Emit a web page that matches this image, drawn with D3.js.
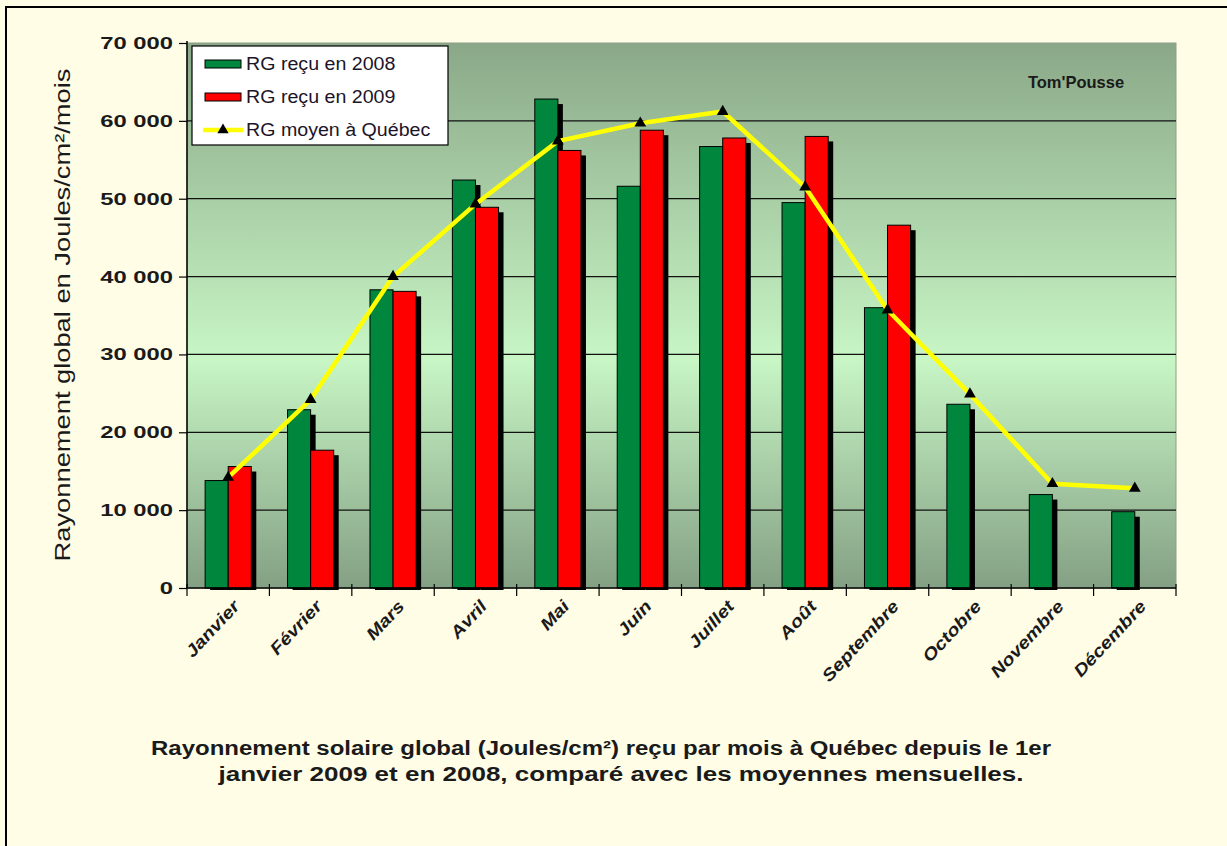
<!DOCTYPE html>
<html>
<head>
<meta charset="utf-8">
<script src="https://cdn.jsdelivr.net/npm/d3@7"></script>
<style>
  body { margin: 0; background: #fffde6; }
  svg { display: block; font-family: Arial, "Liberation Sans", sans-serif; }
</style>
</head>
<body>
<script>
//chart data
var months = ["Janvier", "Février", "Mars", "Avril", "Mai", "Juin", "Juillet", "Août", "Septembre", "Octobre", "Novembre", "Décembre"];
var rg2008 = [13800, 22900, 38300, 52400, 62800, 51600, 56700, 49500, 36000, 23600, 12000, 9800];
var rg2009 = [15600, 17700, 38100, 48900, 56200, 58800, 57800, 58000, 46600, null, null, null];
var rgMoyen = [14200, 24200, 40000, 49300, 57400, 59700, 61200, 51500, 35700, 24900, 13400, 12800];
var yTicks = [0, 10000, 20000, 30000, 40000, 50000, 60000, 70000];
var seriesNames = ["RG reçu en 2008", "RG reçu en 2009", "RG moyen à Québec"];
var captionLines = ["Rayonnement solaire global (Joules/cm²) reçu par mois à Québec depuis le 1er",
                    "janvier 2009 et en 2008, comparé avec les moyennes mensuelles."];

var width = 1227, height = 846;
var pLeft = 187, pRight = 1176, pTop = 43, pBottom = 588;

var svg = d3.select("body").append("svg")
    .attr("width", width)
    .attr("height", height);

//stretch a text horizontally by a factor
function stretch(sel, k){
    sel.each(function(){
        var w = this.getComputedTextLength();
        d3.select(this).attr("textLength", w * k).attr("lengthAdjust", "spacingAndGlyphs");
    });
}

//background and frame
svg.append("rect").attr("width", width).attr("height", height).attr("fill", "#fffde6");
svg.append("path")
    .attr("d", "M6," + height + "V7H" + width)
    .attr("fill", "none").attr("stroke", "#000").attr("stroke-width", 2);

//gradient for plot area
var defs = svg.append("defs");
var grad = defs.append("linearGradient").attr("id", "plotBg")
    .attr("x1", 0).attr("y1", 0).attr("x2", 0).attr("y2", 1);
grad.append("stop").attr("offset", "0%").attr("stop-color", "#8aa888");
grad.append("stop").attr("offset", "58%").attr("stop-color", "#c8f6c5");
grad.append("stop").attr("offset", "100%").attr("stop-color", "#84a084");

//scales
var x = d3.scaleBand().domain(months).range([pLeft, pRight]).paddingInner(0.44).paddingOuter(0.22);
var x1 = d3.scaleBand().domain([0, 1]).range([0, x.bandwidth()]);
var y = d3.scaleLinear().domain([0, 70000]).range([pBottom, pTop]);

var fmt = d3.formatLocale({decimal: ",", thousands: " ", grouping: [3], currency: ["", ""]}).format(",");

//plot area
svg.append("rect")
    .attr("x", pLeft).attr("y", pTop)
    .attr("width", pRight - pLeft).attr("height", pBottom - pTop)
    .attr("fill", "url(#plotBg)")
    .attr("stroke", "#8e9e8c");

//gridlines
svg.append("g").selectAll("line")
    .data(yTicks.filter(function(d){ return d > 0 && d < 70000; }))
    .enter().append("line")
    .attr("x1", pLeft).attr("x2", pRight)
    .attr("y1", function(d){ return y(d); })
    .attr("y2", function(d){ return y(d); })
    .attr("stroke", "#111").attr("stroke-width", 1.2);

//bars: shadow then bar for each series
var series = [
    {values: rg2008, color: "#00873d"},
    {values: rg2009, color: "#ff0000"}
];
series.forEach(function(s, i){
    var g = svg.append("g");
    var data = months.map(function(m, j){ return {m: m, v: s.values[j]}; })
        .filter(function(d){ return d.v != null; });
    g.selectAll(".shadow").data(data).enter().append("rect")
        .attr("class", "shadow")
        .attr("x", function(d){ return x(d.m) + x1(i) + 5; })
        .attr("y", function(d){ return y(d.v) + 5; })
        .attr("width", x1.bandwidth())
        .attr("height", function(d){ return pBottom - y(d.v) - 3; })
        .attr("fill", "#000");
    g.selectAll(".bar").data(data).enter().append("rect")
        .attr("class", "bar")
        .attr("x", function(d){ return x(d.m) + x1(i); })
        .attr("y", function(d){ return y(d.v); })
        .attr("width", x1.bandwidth())
        .attr("height", function(d){ return pBottom - y(d.v); })
        .attr("fill", s.color)
        .attr("stroke", "#000").attr("stroke-width", 1);
});

//average line
var cx = function(m){ return x(m) + x.bandwidth() / 2; };
var line = d3.line()
    .x(function(d, j){ return cx(months[j]); })
    .y(function(d){ return y(d); });
svg.append("path")
    .datum(rgMoyen)
    .attr("d", line)
    .attr("fill", "none")
    .attr("stroke", "#ffff00")
    .attr("stroke-width", 4.5)
    .attr("stroke-linejoin", "round");
svg.append("g").selectAll("path")
    .data(rgMoyen).enter().append("path")
    .attr("d", d3.symbol().type(d3.symbolTriangle).size(60))
    .attr("transform", function(d, j){ return "translate(" + cx(months[j]) + "," + y(d) + ")"; })
    .attr("fill", "#000");

//y axis
var yAxis = svg.append("g")
    .attr("transform", "translate(" + pLeft + ",0)")
    .call(d3.axisLeft(y).tickValues(yTicks).tickSize(8).tickPadding(6).tickFormat(fmt));
yAxis.select(".domain").attr("stroke", "#000").attr("stroke-width", 1.5).attr("d", "M0," + (pTop - 2) + "V" + pBottom);
yAxis.selectAll(".tick line").attr("stroke", "#000").attr("stroke-width", 1.2);
yAxis.selectAll("text")
    .attr("font-size", 17).attr("font-weight", "bold").attr("fill", "#1a1a1a")
    .attr("font-family", "Arial, 'Liberation Sans', sans-serif")
    .call(stretch, 1.4);

//x axis line and boundary ticks
svg.append("line")
    .attr("x1", pLeft).attr("x2", pRight)
    .attr("y1", pBottom).attr("y2", pBottom)
    .attr("stroke", "#000").attr("stroke-width", 1.5);
svg.append("g").selectAll("line")
    .data(d3.range(months.length + 1)).enter().append("line")
    .attr("x1", function(k){ return pLeft + k * x.step(); })
    .attr("x2", function(k){ return pLeft + k * x.step(); })
    .attr("y1", pBottom - 4).attr("y2", pBottom + 8)
    .attr("stroke", "#000").attr("stroke-width", 1.2);

//month labels
svg.append("g").selectAll("text")
    .data(months).enter().append("text")
    .attr("transform", function(m){ return "translate(" + (cx(m) + 8) + "," + (pBottom + 15) + ") rotate(-47)"; })
    .attr("text-anchor", "end")
    .attr("dy", "0.35em")
    .attr("font-size", 17).attr("font-weight", "bold").attr("font-style", "italic")
    .attr("fill", "#1a1a1a")
    .text(function(m){ return m; })
    .call(stretch, 1.18);

//y axis title
svg.append("text")
    .attr("transform", "translate(70,315) rotate(-90)")
    .attr("text-anchor", "middle")
    .attr("font-size", 22)
    .attr("fill", "#1a1a1a")
    .text("Rayonnement global en Joules/cm²/mois")
    .call(stretch, 1.24);

//watermark
svg.append("text")
    .attr("x", 1076).attr("y", 88)
    .attr("text-anchor", "middle")
    .attr("font-size", 16.5).attr("font-weight", "bold")
    .attr("fill", "#1a1a1a")
    .text("Tom'Pousse");

//caption, each line fitted to the width seen in the picture
var captionPos = [{cx: 601, y: 755, w: 900}, {cx: 621, y: 781, w: 805}];
svg.append("g").selectAll("text")
    .data(captionLines).enter().append("text")
    .attr("x", function(d, i){ return captionPos[i].cx; })
    .attr("y", function(d, i){ return captionPos[i].y; })
    .attr("text-anchor", "middle")
    .attr("font-size", 20).attr("font-weight", "bold")
    .attr("fill", "#1a1a1a")
    .attr("textLength", function(d, i){ return captionPos[i].w; })
    .attr("lengthAdjust", "spacingAndGlyphs")
    .text(function(d){ return d; });

//legend
var legend = svg.append("g");
legend.append("rect")
    .attr("x", 192).attr("y", 46).attr("width", 256).attr("height", 99)
    .attr("fill", "#fff").attr("stroke", "#000").attr("stroke-width", 1.2);
var rowY = [64, 97, 130];
legend.append("rect").attr("x", 205).attr("y", rowY[0] - 4).attr("width", 36).attr("height", 8)
    .attr("fill", "#00873d").attr("stroke", "#000");
legend.append("rect").attr("x", 205).attr("y", rowY[1] - 4).attr("width", 36).attr("height", 8)
    .attr("fill", "#ff0000").attr("stroke", "#000");
legend.append("line").attr("x1", 203).attr("x2", 243).attr("y1", rowY[2]).attr("y2", rowY[2])
    .attr("stroke", "#ffff00").attr("stroke-width", 4.5);
legend.append("path")
    .attr("d", d3.symbol().type(d3.symbolTriangle).size(55))
    .attr("transform", "translate(223," + rowY[2] + ")")
    .attr("fill", "#000");
legend.selectAll(".lt").data(seriesNames).enter().append("text")
    .attr("class", "lt")
    .attr("x", 246)
    .attr("y", function(d, i){ return rowY[i]; })
    .attr("dy", "0.35em")
    .attr("font-size", 18)
    .attr("fill", "#1c1428")
    .text(function(d){ return d; })
    .call(stretch, 1.09);
</script>
</body>
</html>
